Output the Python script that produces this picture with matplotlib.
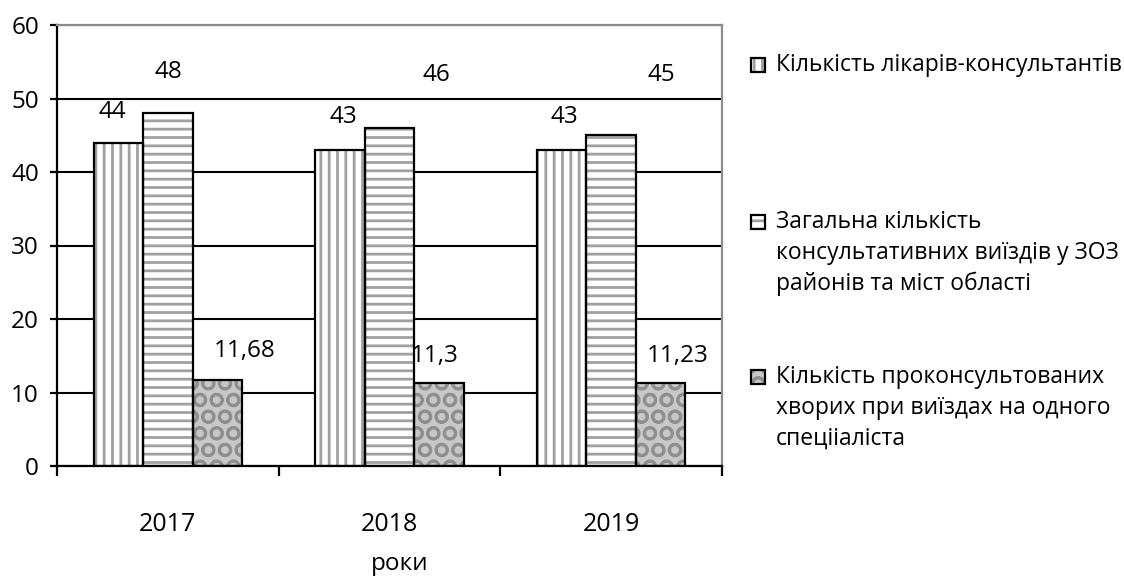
import matplotlib
matplotlib.use("Agg")
import matplotlib.pyplot as plt
from matplotlib.patches import Rectangle
import numpy as np

plt.rcParams['font.family'] = ['Open Sans', 'DejaVu Sans']
plt.rcParams['hatch.linewidth'] = 2.0

years = ['2017', '2018', '2019']
doctors = [44, 43, 43]
trips = [48, 46, 45]
patients = [11.68, 11.3, 11.23]
series_names = [
    'Кількість лікарів-консультантів',
    'Загальна кількість\nконсультативних виїздів у ЗОЗ\nрайонів та міст області',
    'Кількість проконсультованих\nхворих при виїздах на одного\nспецііаліста',
]
y_ticks = [0, 10, 20, 30, 40, 50, 60]
x_axis_title = 'роки'

# label offsets (pixels) relative to bar centre / bar top
label_dx = [[-6, 3, 3], [1, 47, 50], [27, -4, 17]]
label_dy = [[31, 33, 33], [41, 53, 60], [29, 27, 27]]

hatches = ['||', '--', 'O']
hatch_grays = ['#a0a0a0', '#a0a0a0', '#8f8f8f']
FS = 17.5

W, H = 1124, 583
fig = plt.figure(figsize=(W / 100, H / 100), dpi=100)
ax = fig.add_axes([57 / W, 117 / H, 665 / W, 441 / H])

x = np.arange(len(years))
bw = 0.2233
offsets = [-bw, 0, bw]
all_series = [doctors, trips, patients]
faces = ['white', 'white', '#c8c8c8']

for i, (vals, off) in enumerate(zip(all_series, offsets)):
    ax.bar(x + off, vals, width=bw, facecolor=faces[i], edgecolor=hatch_grays[i],
           hatch=hatches[i], linewidth=0, zorder=2)
    ax.bar(x + off, vals, width=bw, fill=False, edgecolor='black',
           linewidth=1.6, zorder=3)
    for j, v in enumerate(vals):
        txt = f"{v:g}".replace('.', ',')
        ax.annotate(txt, xy=(x[j] + off, v),
                    xytext=(label_dx[i][j] * 0.72, label_dy[i][j] * 0.72),
                    textcoords='offset points', ha='center', va='center',
                    fontsize=FS, color='black', zorder=4)

ax.set_xlim(-0.5, len(years) - 0.5)
ax.set_ylim(0, 60)
ax.set_yticks(y_ticks)
ax.set_yticklabels([str(t) for t in y_ticks], fontsize=FS)
ax.yaxis.grid(True, color='black', linewidth=1.5)
ax.set_axisbelow(True)

ax.set_xticks(x)
ax.set_xticklabels(years, fontsize=FS + 0.5)
ax.set_xticks(np.arange(len(years) + 1) - 0.5, minor=True)
ax.tick_params(axis='x', which='major', length=0, pad=33)
ax.tick_params(axis='x', which='minor', length=7, width=1.6, direction='out')
ax.tick_params(axis='y', length=5, width=1.6, direction='out', pad=8)

for s in ['left', 'bottom']:
    ax.spines[s].set_color('black')
    ax.spines[s].set_linewidth(1.6)
for s in ['top', 'right']:
    ax.spines[s].set_color('#8c8c8c')
    ax.spines[s].set_linewidth(1.6)

fig.text(400 / W, 1 - 564 / H, x_axis_title, ha='center', va='center', fontsize=FS)

# legend (manual)
leg_first_line = [65, 222, 377]
line_gap = 31
LFS = 16.5
for i, name in enumerate(series_names):
    y0 = leg_first_line[i]
    rect_kw = dict(transform=fig.transFigure, figure=fig)
    fig.add_artist(Rectangle((751 / W, 1 - (y0 + 7) / H), 14 / W, 14 / H,
                             facecolor=faces[i], edgecolor=hatch_grays[i],
                             hatch=hatches[i], linewidth=0, **rect_kw))
    fig.add_artist(Rectangle((751 / W, 1 - (y0 + 7) / H), 14 / W, 14 / H,
                             fill=False, edgecolor='black', linewidth=1.6, **rect_kw))
    for k, line in enumerate(name.split('\n')):
        fig.text(776 / W, 1 - (y0 + k * line_gap) / H, line,
                 ha='left', va='center', fontsize=LFS)

fig.savefig('out.png', dpi=100)
